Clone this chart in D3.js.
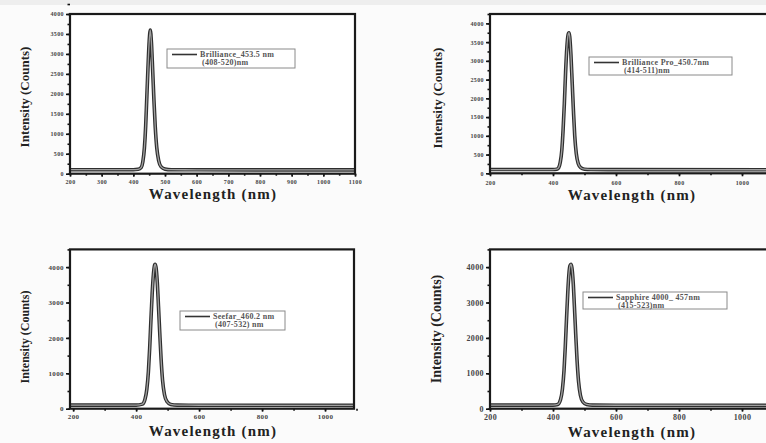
<!DOCTYPE html>
<html><head><meta charset="utf-8">
<script src="https://cdn.jsdelivr.net/npm/d3@7"></script>
<style>
html,body{margin:0;padding:0;background:#fbfbfb;}
svg{display:block;}
text{font-family:"Liberation Serif","Times New Roman",serif;font-weight:bold;}
</style></head>
<body>
<svg id="chart" width="766" height="443"></svg>
<script>
// ---- data ----
const legendLabels = [
  ["Brilliance_453.5 nm", "(408-520)nm"],
  ["Brilliance Pro_450.7nm", "(414-511)nm"],
  ["Seefar_460.2 nm", "(407-532) nm"],
  ["Sapphire 4000_ 457nm", "(415-523)nm"]
];
const xTitle = "Wavelength (nm)";
const yTitle = "Intensity (Counts)";

const wl1 = [200,400,415,425,430,435,439,442,446,450,453.5,457,461,465,469,474,480,488,500,520,600,1100];
const int1 = [100,100,110,160,300,650,1200,1800,2600,3300,3600,3300,2600,1850,1200,650,330,170,115,100,98,95];

const wl2 = [200,400,412,418,423,428,432,436,440,444,448,450.7,453,457,461,465,469,474,480,488,500,520,600,1100];
const int2 = [100,100,110,150,290,620,1150,1850,2700,3350,3700,3750,3650,3150,2400,1650,1000,520,260,150,110,100,98,95];

const wl3 = [190,400,420,428,434,439,443,447,451,455,458,460.2,463,467,471,475,479,484,490,498,510,530,600,1092];
const int3 = [100,100,130,260,550,1050,1700,2500,3250,3800,4030,4080,4000,3600,2900,2150,1450,800,400,200,120,100,98,95];

const wl4 = [200,400,415,424,430,435,439,443,447,451,454,457,460,464,468,472,476,481,487,495,507,525,600,1100];
const int4 = [100,100,120,260,560,1080,1750,2550,3300,3850,4040,4080,3980,3580,2880,2130,1430,780,380,190,120,100,98,95];

const xTicks12 = [200,300,400,500,600,700,800,900,1000,1100];
const xTicks34 = [200,400,600,800,1000];
const xMinor1 = d3.range(200,1101,50);
const xMinor2 = d3.range(200,1101,100);
const yTicks12 = [0,500,1000,1500,2000,2500,3000,3500,4000];
const yMinor12 = d3.range(0,4251,250);
const yTicks34 = [0,1000,2000,3000,4000];
const yMinor34 = d3.range(0,4501,500);

// ---- layout ----
const panels = [
  {wl:wl1, it:int1, leg:legendLabels[0], xd:[200,1100], xr:[70,355], yd:[0,4000], yr:[173.7,14],
   xt:xTicks12, xm:xMinor1, yt:yTicks12, ym:yMinor12, tfs:6, tly:184, box:[167,49,128,19],
   xtx:213, xty:199, xfs:15, ytx:25, yty:97, yfs:13},
  {wl:wl2, it:int2, leg:legendLabels[1], xd:[200,1100], xr:[490,773.5], yd:[0,4250], yr:[173.3,14],
   xt:xTicks34, xm:xMinor2, yt:yTicks12, ym:yMinor12, tfs:6, tly:185, box:[589,57,143,18],
   xtx:632, xty:200, xfs:15, ytx:438, yty:98, yfs:13},
  {wl:wl3, it:int3, leg:legendLabels[2], xd:[190,1092], xr:[70,354], yd:[0,4500], yr:[408.7,249.4],
   xt:xTicks34, xm:xMinor2, yt:yTicks34, ym:yMinor34, tfs:7, tly:419, box:[180,311,105,19],
   xtx:213, xty:436, xfs:15, ytx:25, yty:337, yfs:12},
  {wl:wl4, it:int4, leg:legendLabels[3], xd:[200,1100], xr:[490,773.5], yd:[0,4500], yr:[408.7,249.4],
   xt:xTicks34, xm:xMinor2, yt:yTicks34, ym:yMinor34, tfs:8, tly:420, box:[583,292,144,17],
   xtx:632, xty:437, xfs:15, ytx:437, yty:329, yfs:14}
];

const svg = d3.select("#chart");
svg.append("rect").attr("x",0).attr("y",0).attr("width",766).attr("height",5).attr("fill","#eeeeee");

panels.forEach(p => {
  const x = d3.scaleLinear().domain(p.xd).range(p.xr);
  const y = d3.scaleLinear().domain(p.yd).range(p.yr);
  const g = svg.append("g");
  const [x0,x1] = p.xr, [y0,y1] = p.yr;

  // plot area
  g.append("rect").attr("x",x0).attr("y",y1).attr("width",x1-x0).attr("height",y0-y1).attr("fill","#ffffff");

  // curve
  const pts = p.wl.map((w,i)=>[w,p.it[i]]);
  const line = d3.line().x(d=>x(d[0])).y(d=>y(d[1])).curve(d3.curveMonotoneX);
  g.append("path").datum(pts).attr("d",line).attr("fill","none").attr("stroke","#2e2e2e").attr("stroke-width",3.6);
  g.append("path").datum(pts).attr("d",line).attr("fill","none").attr("stroke","#a0a0a0").attr("stroke-width",1.3);

  // axes
  const xAx = d3.axisBottom(x).tickValues(p.xt).tickSize(3).tickPadding(2).tickFormat(d3.format("d"));
  const xAxMin = d3.axisBottom(x).tickValues(p.xm).tickSize(2).tickFormat("");
  const yAx = d3.axisLeft(y).tickValues(p.yt).tickSize(4).tickPadding(2).tickFormat(d3.format("d"));
  const yAxMin = d3.axisLeft(y).tickValues(p.ym).tickSize(2.5).tickFormat("");

  const gxm = g.append("g").attr("transform",`translate(0,${y0})`).call(xAxMin);
  const gx = g.append("g").attr("transform",`translate(0,${y0})`).call(xAx);
  const gym = g.append("g").attr("transform",`translate(${x0},0)`).call(yAxMin);
  const gy = g.append("g").attr("transform",`translate(${x0},0)`).call(yAx);
  [gx,gxm,gy,gym].forEach(a=>{
    a.select(".domain").remove();
    a.selectAll(".tick line").attr("stroke","#111").attr("stroke-width",1.6);
    a.selectAll("text").attr("fill","#444").attr("font-size",p.tfs).attr("letter-spacing",0.4);
  });
  gx.selectAll("text").attr("dy",null).attr("y",null).attr("transform",null)
    .each(function(){ d3.select(this).attr("y", p.tly - y0); });

  // frame
  g.append("rect").attr("x",x0).attr("y",y1).attr("width",x1-x0).attr("height",y0-y1)
    .attr("fill","none").attr("stroke","#1a1a1a").attr("stroke-width",2.2);

  // legend
  const [bx,by,bw,bh] = p.box;
  const lg = g.append("g");
  lg.append("rect").attr("x",bx).attr("y",by).attr("width",bw).attr("height",bh)
    .attr("fill","#ffffff").attr("stroke","#8a8a8a").attr("stroke-width",1);
  lg.append("line").attr("x1",bx+5).attr("x2",bx+30).attr("y1",by+5.5).attr("y2",by+5.5)
    .attr("stroke","#333").attr("stroke-width",1.6);
  lg.append("text").attr("x",bx+33).attr("y",by+8).attr("font-size",8).attr("fill","#555")
    .attr("letter-spacing",0.3).text(p.leg[0]);
  lg.append("text").attr("x",bx+35).attr("y",by+16).attr("font-size",8).attr("fill","#555")
    .attr("letter-spacing",0.3).text(p.leg[1]);

  // titles
  g.append("text").attr("x",p.xtx).attr("y",p.xty).attr("text-anchor","middle")
    .attr("font-size",p.xfs).attr("letter-spacing",1.2).attr("fill","#222").text(xTitle);
  g.append("text").attr("transform",`translate(${p.ytx+4},${p.yty}) rotate(-90)`)
    .attr("text-anchor","middle").attr("font-size",p.yfs).attr("fill","#222").text(yTitle);
});
</script>
</body></html>
